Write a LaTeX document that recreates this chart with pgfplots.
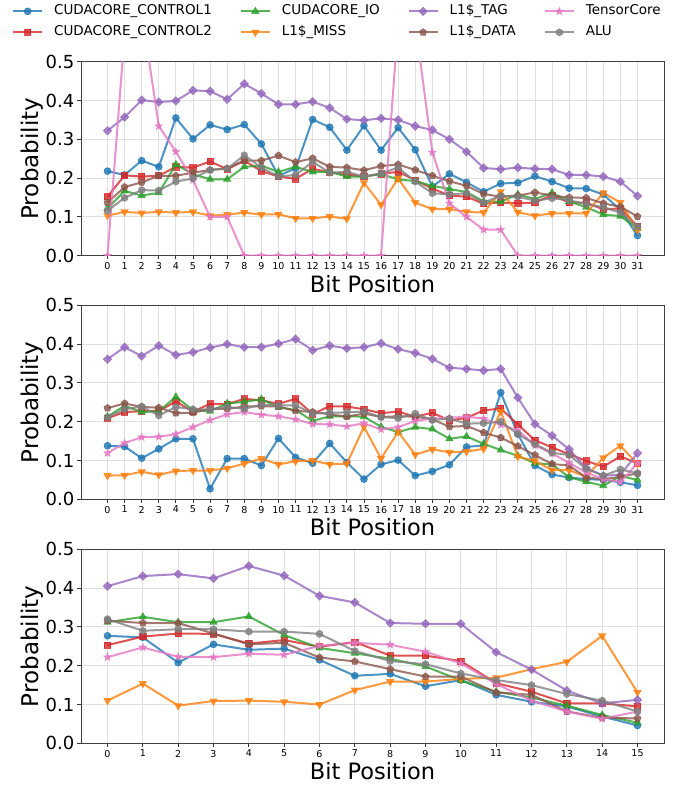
\documentclass[border=0pt]{standalone}
\usepackage{fontspec}
\setmainfont{DejaVu Sans}
\usepackage{pgfplots}
\usepackage{pgfplotstable}
\pgfplotsset{compat=1.18}
\usetikzlibrary{plotmarks}

\definecolor{tBlue}{HTML}{1F77B4}
\definecolor{tOrange}{HTML}{FF7F0E}
\definecolor{tGreen}{HTML}{2CA02C}
\definecolor{tRed}{HTML}{D62728}
\definecolor{tPurple}{HTML}{9467BD}
\definecolor{tBrown}{HTML}{8C564B}
\definecolor{tPink}{HTML}{E377C2}
\definecolor{tGray}{HTML}{7F7F7F}

\pgfdeclareplotmark{hexagon*}{%
  \pgfpathmoveto{\pgfpointpolar{90}{\pgfplotmarksize}}%
  \pgfpathlineto{\pgfpointpolar{150}{\pgfplotmarksize}}%
  \pgfpathlineto{\pgfpointpolar{210}{\pgfplotmarksize}}%
  \pgfpathlineto{\pgfpointpolar{270}{\pgfplotmarksize}}%
  \pgfpathlineto{\pgfpointpolar{330}{\pgfplotmarksize}}%
  \pgfpathlineto{\pgfpointpolar{30}{\pgfplotmarksize}}%
  \pgfpathclose\pgfusepathqfillstroke}
\pgfdeclareplotmark{fstar}{%
  \pgfpathmoveto{\pgfpointpolar{90}{\pgfplotmarksize}}%
  \pgfpathlineto{\pgfpointpolar{126}{0.42\pgfplotmarksize}}%
  \pgfpathlineto{\pgfpointpolar{162}{\pgfplotmarksize}}%
  \pgfpathlineto{\pgfpointpolar{198}{0.42\pgfplotmarksize}}%
  \pgfpathlineto{\pgfpointpolar{234}{\pgfplotmarksize}}%
  \pgfpathlineto{\pgfpointpolar{270}{0.42\pgfplotmarksize}}%
  \pgfpathlineto{\pgfpointpolar{306}{\pgfplotmarksize}}%
  \pgfpathlineto{\pgfpointpolar{342}{0.42\pgfplotmarksize}}%
  \pgfpathlineto{\pgfpointpolar{18}{\pgfplotmarksize}}%
  \pgfpathlineto{\pgfpointpolar{54}{0.42\pgfplotmarksize}}%
  \pgfpathclose\pgfusepathqfillstroke}

\pgfplotstableread{
bit c1 c2 io miss tag data tc alu
0 0.218 0.152 0.122 0.103 0.322 0.137 0 0.116
1 0.208 0.207 0.167 0.113 0.357 0.177 0.57 0.149
2 0.245 0.204 0.155 0.110 0.401 0.189 0.63 0.169
3 0.229 0.206 0.162 0.113 0.396 0.206 0.334 0.168
4 0.355 0.229 0.235 0.111 0.399 0.206 0.268 0.191
5 0.301 0.227 0.210 0.113 0.426 0.214 0.195 0.199
6 0.337 0.243 0.197 0.103 0.424 0.221 0.100 0.221
7 0.325 0.223 0.197 0.106 0.403 0.225 0.100 0.224
8 0.338 0.245 0.229 0.111 0.443 0.245 0 0.259
9 0.288 0.218 0.232 0.106 0.418 0.245 0 0.227
10 0.206 0.204 0.216 0.107 0.390 0.258 0 0.204
11 0.225 0.198 0.229 0.096 0.390 0.241 0 0.208
12 0.351 0.224 0.216 0.096 0.397 0.251 0 0.242
13 0.331 0.215 0.216 0.101 0.381 0.229 0 0.214
14 0.272 0.210 0.204 0.095 0.352 0.227 0 0.216
15 0.335 0.204 0.204 0.188 0.349 0.220 0 0.204
16 0.272 0.211 0.210 0.131 0.354 0.231 0 0.212
17 0.330 0.216 0.197 0.199 0.350 0.235 0.60 0.227
18 0.273 0.195 0.192 0.137 0.334 0.221 0.60 0.191
19 0.178 0.173 0.180 0.120 0.324 0.206 0.266 0.161
20 0.211 0.155 0.172 0.120 0.300 0.192 0.135 0.158
21 0.189 0.152 0.164 0.113 0.268 0.180 0.100 0.161
22 0.165 0.134 0.140 0.111 0.226 0.159 0.067 0.137
23 0.186 0.137 0.139 0.165 0.223 0.152 0.067 0.154
24 0.188 0.135 0.158 0.112 0.227 0.155 0 0.152
25 0.205 0.137 0.146 0.103 0.224 0.163 0 0.142
26 0.191 0.156 0.162 0.109 0.223 0.155 0 0.148
27 0.174 0.137 0.140 0.109 0.208 0.150 0 0.143
28 0.173 0.137 0.125 0.109 0.208 0.149 0 0.133
29 0.158 0.119 0.106 0.162 0.204 0.135 0 0.125
30 0.118 0.122 0.102 0.137 0.191 0.126 0 0.111
31 0.052 0.076 0.070 0.066 0.154 0.101 0 0.075
}\tabA

\pgfplotstableread{
bit c1 c2 io miss tag data tc alu
0 0.138 0.209 0.213 0.061 0.361 0.235 0.119 0.212
1 0.136 0.225 0.241 0.062 0.392 0.247 0.145 0.232
2 0.106 0.227 0.225 0.071 0.369 0.238 0.160 0.239
3 0.130 0.228 0.227 0.063 0.396 0.236 0.161 0.216
4 0.156 0.252 0.264 0.073 0.372 0.222 0.168 0.238
5 0.156 0.226 0.230 0.074 0.379 0.223 0.186 0.232
6 0.027 0.246 0.227 0.074 0.391 0.233 0.204 0.232
7 0.105 0.245 0.247 0.080 0.400 0.233 0.219 0.238
8 0.105 0.259 0.251 0.092 0.392 0.239 0.225 0.233
9 0.087 0.255 0.258 0.105 0.392 0.240 0.218 0.244
10 0.157 0.246 0.237 0.090 0.401 0.239 0.214 0.242
11 0.108 0.259 0.230 0.098 0.413 0.228 0.206 0.242
12 0.093 0.220 0.202 0.100 0.384 0.225 0.194 0.221
13 0.144 0.240 0.214 0.090 0.396 0.219 0.193 0.223
14 0.095 0.239 0.214 0.092 0.389 0.213 0.188 0.224
15 0.052 0.232 0.213 0.187 0.392 0.221 0.196 0.226
16 0.090 0.222 0.187 0.105 0.402 0.212 0.180 0.212
17 0.101 0.226 0.173 0.174 0.387 0.214 0.186 0.209
18 0.061 0.213 0.186 0.115 0.377 0.213 0.202 0.221
19 0.072 0.223 0.181 0.129 0.362 0.206 0.208 0.204
20 0.089 0.203 0.156 0.121 0.339 0.187 0.210 0.208
21 0.135 0.210 0.162 0.123 0.336 0.189 0.213 0.195
22 0.139 0.229 0.143 0.130 0.332 0.172 0.208 0.196
23 0.275 0.234 0.127 0.227 0.336 0.159 0.192 0.200
24 0.168 0.193 0.112 0.110 0.262 0.137 0.178 0.168
25 0.087 0.152 0.093 0.099 0.194 0.114 0.139 0.142
26 0.064 0.134 0.090 0.075 0.164 0.091 0.118 0.120
27 0.056 0.116 0.057 0.075 0.129 0.087 0.094 0.114
28 0.052 0.099 0.045 0.058 0.080 0.056 0.069 0.079
29 0.050 0.084 0.035 0.107 0.061 0.052 0.052 0.061
30 0.044 0.111 0.060 0.138 0.063 0.058 0.044 0.077
31 0.036 0.092 0.050 0.091 0.119 0.067 0.093 0.067
}\tabB

\pgfplotstableread{
bit c1 c2 io miss tag data tc alu
0 0.277 0.253 0.312 0.110 0.405 0.316 0.222 0.320
1 0.273 0.275 0.326 0.154 0.431 0.310 0.247 0.290
2 0.208 0.283 0.312 0.097 0.436 0.310 0.223 0.294
3 0.255 0.282 0.312 0.109 0.425 0.283 0.222 0.294
4 0.241 0.257 0.327 0.110 0.457 0.255 0.231 0.288
5 0.244 0.266 0.279 0.107 0.432 0.259 0.228 0.288
6 0.215 0.249 0.246 0.100 0.380 0.221 0.251 0.282
7 0.174 0.261 0.232 0.137 0.363 0.211 0.259 0.238
8 0.179 0.226 0.218 0.159 0.310 0.191 0.254 0.212
9 0.147 0.226 0.198 0.159 0.308 0.172 0.236 0.204
10 0.163 0.212 0.162 0.166 0.308 0.172 0.206 0.180
11 0.125 0.155 0.133 0.169 0.235 0.131 0.153 0.163
12 0.107 0.133 0.118 0.191 0.190 0.125 0.110 0.150
13 0.095 0.103 0.097 0.210 0.136 0.082 0.082 0.127
14 0.069 0.103 0.073 0.277 0.103 0.066 0.063 0.110
15 0.046 0.095 0.053 0.131 0.112 0.064 0.082 0.082
}\tabC

\pgfplotsset{
  sc1/.style={color=tBlue, mark=*, mark size=3.4bp, mark options={solid, line width=0.8bp}},
  sc2/.style={color=tRed, mark=square*, mark size=3.1bp, mark options={solid, line width=0.8bp}},
  sio/.style={color=tGreen, mark=triangle*, mark size=4bp, mark options={solid, line width=0.8bp}},
  smiss/.style={color=tOrange, mark=triangle*, mark size=4bp, mark options={solid, line width=0.8bp, rotate=180}},
  stag/.style={color=tPurple, mark=square*, mark size=2.9bp, mark options={solid, line width=0.8bp, rotate=45}},
  sdata/.style={color=tBrown, mark=pentagon*, mark size=3.6bp, mark options={solid, line width=0.8bp}},
  stc/.style={color=tPink, mark=fstar, mark size=3.9bp, mark options={solid, line width=0.6bp}},
  salu/.style={color=tGray, mark=hexagon*, mark size=3.5bp, mark options={solid, line width=0.8bp}},
  panel/.style={
    scale only axis, width=583bp, height=194bp,
    ymin=0, ymax=0.5, ytick={0,0.1,0.2,0.3,0.4,0.5},
    /pgf/number format/assume math mode=true,
    yticklabel style={/pgf/number format/fixed, /pgf/number format/fixed zerofill, /pgf/number format/precision=1, font=\fontsize{18bp}{20bp}\selectfont, inner sep=0pt, xshift=-3bp},
    xticklabel style={font=\fontsize{9.5bp}{11bp}\selectfont, inner sep=0pt, yshift=-3bp},
    grid=major, major grid style={draw=black!12, line width=0.8bp},
    tick align=outside, major tick length=3.5bp, tick style={black!80, line width=0.8bp},
    tick pos=left,
    axis line style={black!75, line width=1bp},
    clip marker paths=true,
    every axis plot/.append style={line width=2bp, opacity=0.8},
    xlabel={Bit Position}, ylabel={Probability},
    every axis x label/.style={at={(axis description cs:0.5,-0.098)}, anchor=north, inner sep=0pt, font=\fontsize{22.5bp}{26bp}\selectfont},
    every axis y label/.style={at={(axis description cs:-0.084,0.5)}, rotate=90, anchor=center, inner sep=0pt, font=\fontsize{23bp}{26bp}\selectfont},
  }
}

\begin{document}
\begin{tikzpicture}
\path[use as bounding box] (0,0) rectangle (678bp,785bp);

\begin{axis}[panel, at={(81bp,529.3bp)}, anchor=south west,
  xmin=-1.55, xmax=32.55, xtick={0,...,31},
  legend columns=4, legend cell align=left,
  legend style={at={(axis description cs:-0.1184,1.294)}, anchor=north west, draw=none, fill=none, inner sep=0pt,
    font=\fontsize{13.5bp}{16bp}\selectfont, column sep=11bp, row sep=8bp,
    /tikz/every even column/.append style={column sep=28bp},
    nodes={inner sep=0pt, text height=10bp, text depth=3bp}},
  legend image code/.code={\draw[mark repeat=2, mark phase=2] plot coordinates {(0bp,0bp) (14.5bp,0bp) (29bp,0bp)};},
]
\addlegendimage{sc1}
\addlegendimage{sio}
\addlegendimage{stag}
\addlegendimage{stc}
\addlegendimage{sc2}
\addlegendimage{smiss}
\addlegendimage{sdata}
\addlegendimage{salu}
\legend{CUDACORE\_CONTROL1, CUDACORE\_IO, L1\$\_TAG, TensorCore, CUDACORE\_CONTROL2, L1\$\_MISS, L1\$\_DATA, ALU}
\addplot[sc1] table[x=bit, y=c1] {\tabA};
\addplot[sc2] table[x=bit, y=c2] {\tabA};
\addplot[sio] table[x=bit, y=io] {\tabA};
\addplot[smiss] table[x=bit, y=miss] {\tabA};
\addplot[stag] table[x=bit, y=tag] {\tabA};
\addplot[sdata] table[x=bit, y=data] {\tabA};
\addplot[stc] table[x=bit, y=tc] {\tabA};
\addplot[salu] table[x=bit, y=alu] {\tabA};
\end{axis}

\begin{axis}[panel, at={(81bp,285.7bp)}, anchor=south west,
  xmin=-1.55, xmax=32.55, xtick={0,...,31}]
\addplot[sc1] table[x=bit, y=c1] {\tabB};
\addplot[sc2] table[x=bit, y=c2] {\tabB};
\addplot[sio] table[x=bit, y=io] {\tabB};
\addplot[smiss] table[x=bit, y=miss] {\tabB};
\addplot[stag] table[x=bit, y=tag] {\tabB};
\addplot[sdata] table[x=bit, y=data] {\tabB};
\addplot[stc] table[x=bit, y=tc] {\tabB};
\addplot[salu] table[x=bit, y=alu] {\tabB};
\end{axis}

\begin{axis}[panel, at={(81bp,41.7bp)}, anchor=south west,
  xmin=-0.75, xmax=15.75, xtick={0,...,15}]
\addplot[sc1] table[x=bit, y=c1] {\tabC};
\addplot[sc2] table[x=bit, y=c2] {\tabC};
\addplot[sio] table[x=bit, y=io] {\tabC};
\addplot[smiss] table[x=bit, y=miss] {\tabC};
\addplot[stag] table[x=bit, y=tag] {\tabC};
\addplot[sdata] table[x=bit, y=data] {\tabC};
\addplot[stc] table[x=bit, y=tc] {\tabC};
\addplot[salu] table[x=bit, y=alu] {\tabC};
\end{axis}
\end{tikzpicture}
\end{document}
